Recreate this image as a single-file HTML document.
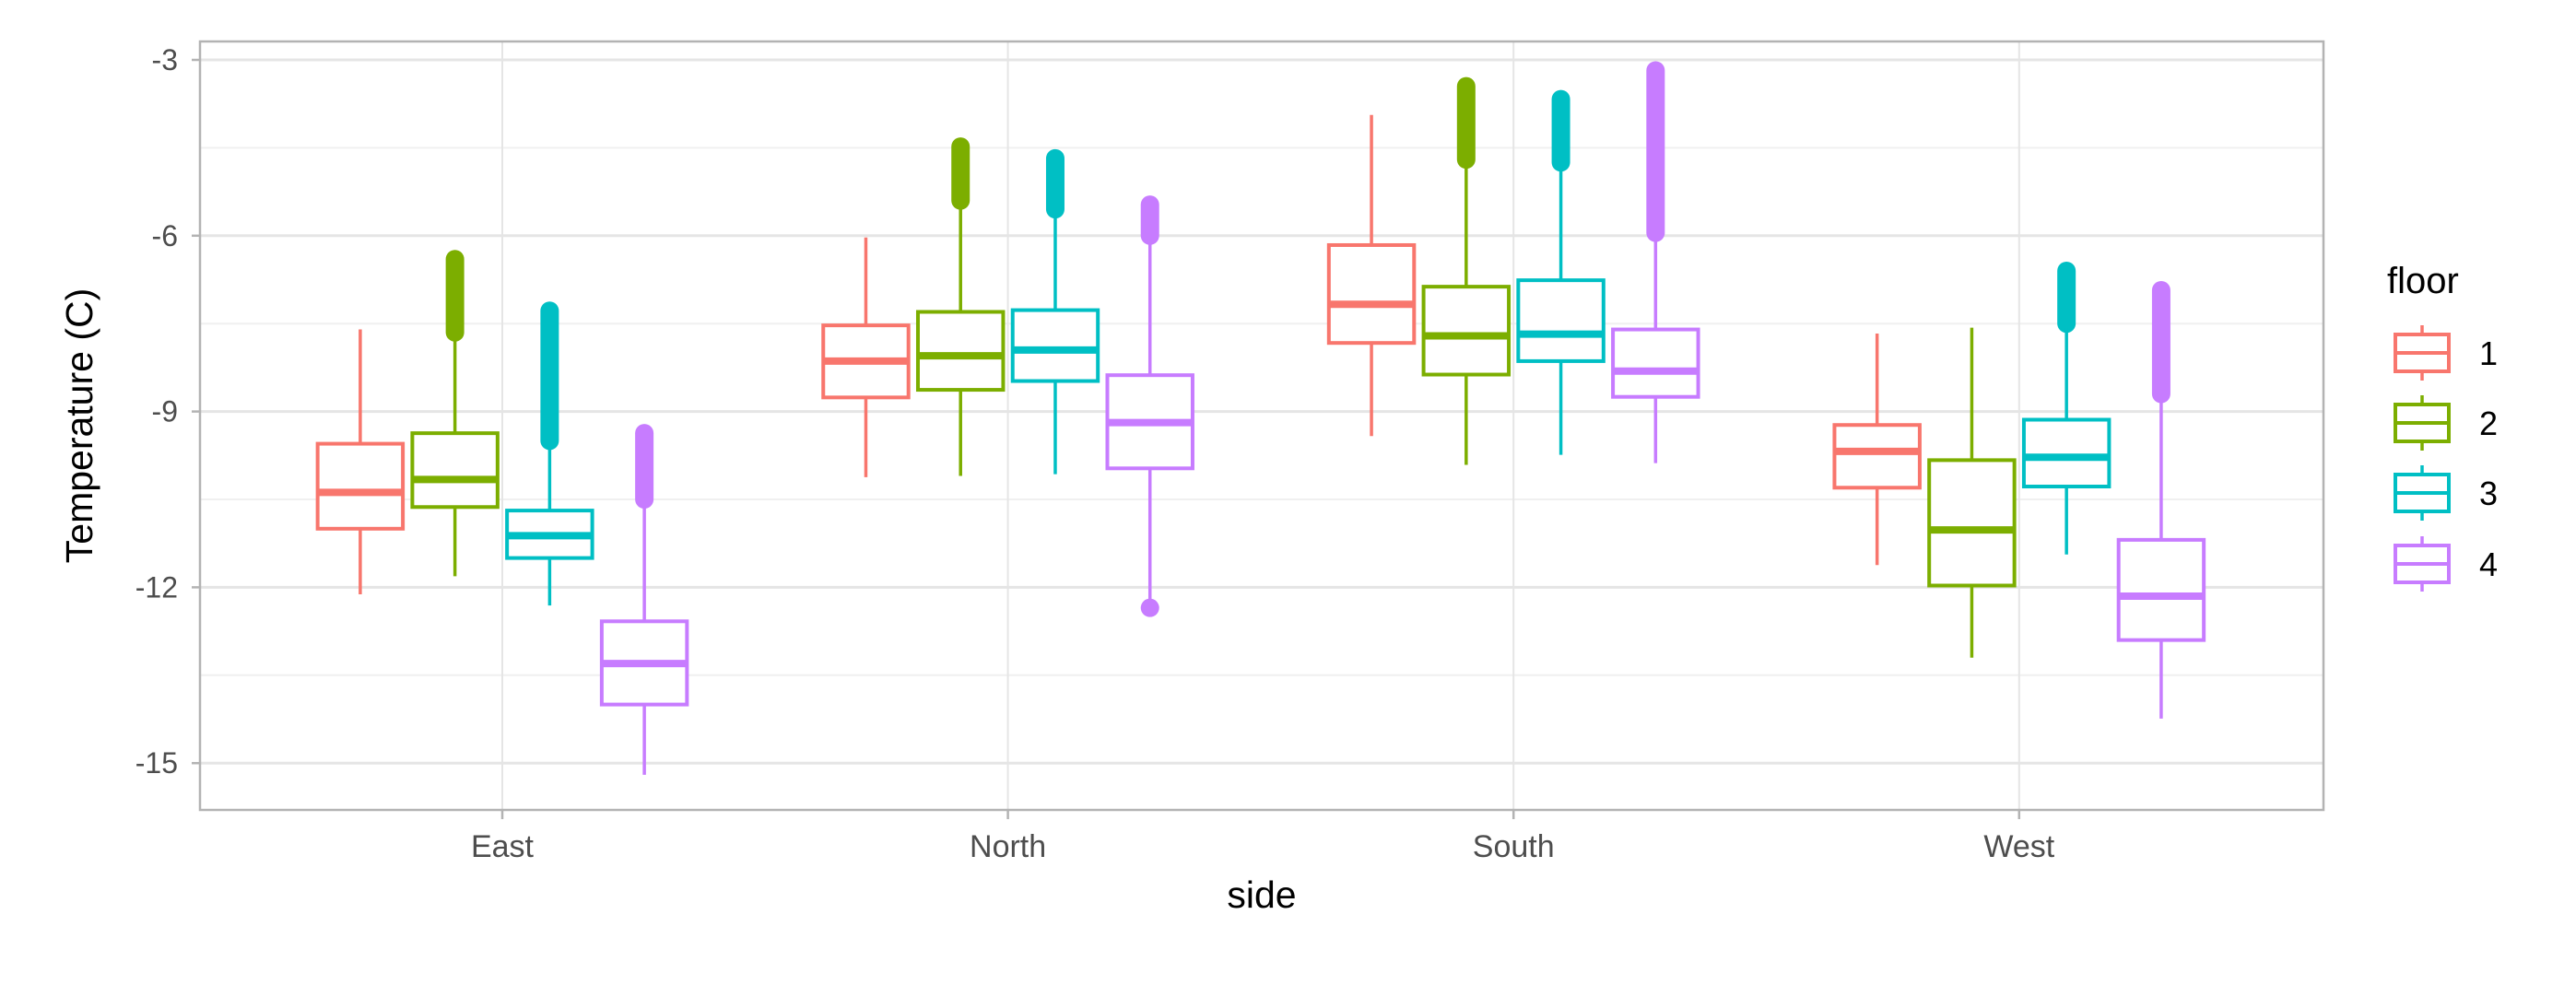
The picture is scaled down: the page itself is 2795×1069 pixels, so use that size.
<!DOCTYPE html>
<html><head><meta charset="utf-8"><style>
html,body{margin:0;padding:0;background:#fff;}
svg{display:block;font-family:"Liberation Sans",sans-serif;}
</style></head><body>
<svg id="chart" width="2795" height="1069" viewBox="0 0 2795 1069" xmlns="http://www.w3.org/2000/svg">
<rect x="0" y="0" width="2795" height="1069" fill="#fff"/>
<g id="grid"></g>
<g id="marks"></g>
<g id="axes"></g>
<text x="100" y="462" font-size="41" fill="#000" text-anchor="middle" transform="rotate(-90 100 462)">Temperature (C)</text>
<text x="1369" y="985" font-size="41" fill="#000" text-anchor="middle">side</text>
<g id="legend">
<text x="2590" y="318" font-size="40" fill="#000">floor</text>
</g>
</svg>
<script>
const categories = ["East","North","South","West"];
const floors = ["1","2","3","4"];
const colors = ["#F8766D","#7CAE00","#00BFC4","#C77CFF"];
const yTicks = [-3,-6,-9,-12,-15];
const yMinor = [-4.5,-7.5,-10.5,-13.5];
// per category, per floor: [whiskerLow, q1, median, q3, whiskerHigh]
const eastStats  = [[-12.12,-11.0,-10.38,-9.55,-7.6],[-11.81,-10.63,-10.16,-9.37,-7.6],[-12.31,-11.5,-11.12,-10.69,-9.53],[-15.2,-14.0,-13.3,-12.58,-10.55]];
const northStats = [[-10.12,-8.76,-8.14,-7.53,-6.03],[-10.1,-8.63,-8.05,-7.3,-5.44],[-10.07,-8.48,-7.95,-7.27,-5.57],[-12.2,-9.97,-9.19,-8.38,-6.05]];
const southStats = [[-9.42,-7.83,-7.17,-6.16,-3.94],[-9.91,-8.37,-7.71,-6.87,-4.74],[-9.74,-8.14,-7.68,-6.76,-4.79],[-9.88,-8.75,-8.31,-7.6,-6.0]];
const westStats  = [[-11.62,-10.3,-9.68,-9.23,-7.67],[-13.2,-11.97,-11.02,-9.83,-7.57],[-11.44,-10.28,-9.78,-9.14,-7.57],[-14.24,-12.9,-12.15,-11.19,-8.75]];
// outlier ranges [low, high] (null = none)
const eastOut  = [null,[-7.65,-6.4],[-9.5,-7.28],[-10.5,-9.37]];
const northOut = [null,[-5.4,-4.48],[-5.55,-4.68],[-6.0,-5.47]];
const southOut = [null,[-4.7,-3.45],[-4.75,-3.67],[-5.95,-3.18]];
const westOut  = [null,null,[-7.5,-6.6],[-8.7,-6.93]];
const extraOutliers = [["North",3,-12.35]];

const allStats=[eastStats,northStats,southStats,westStats];
const allOut=[eastOut,northOut,southOut,westOut];
const NS="http://www.w3.org/2000/svg";
const L=217,R=2521,T=45,B=879;
function yScale(v){return 65+(-3-v)*63.6;}
const catStep=548.6, cat0=545;
function xScale(i){return cat0+i*catStep;}
const dodge=411, slot=dodge/4, boxW=slot*0.9;
function xFloor(i,j){return xScale(i)-dodge/2+slot*(j+0.5);}
function mk(tag,attrs,parent){const e=document.createElementNS(NS,tag);for(const k in attrs)e.setAttribute(k,attrs[k]);parent.appendChild(e);return e;}
const grid=document.getElementById('grid'),marks=document.getElementById('marks'),axes=document.getElementById('axes'),legend=document.getElementById('legend');
yMinor.forEach(v=>{const e=mk('line',{x1:L,x2:R,y1:yScale(v),y2:yScale(v),stroke:'#f0f0f0','stroke-width':2},grid);

});
yTicks.forEach(v=>{const e=mk('line',{x1:L,x2:R,y1:yScale(v),y2:yScale(v),stroke:'#e5e5e5','stroke-width':3},grid);


const t=mk('line',{x1:L-9,x2:L,y1:yScale(v),y2:yScale(v),stroke:'#b3b3b3','stroke-width':2.5},axes);


const tx=mk('text',{x:L-24,y:yScale(v)+11,'font-size':32,fill:'#4d4d4d','text-anchor':'end'},axes);tx.textContent=v;

});
categories.forEach((c,i)=>{const x=xScale(i);
const g=mk('line',{x1:x,x2:x,y1:T,y2:B,stroke:'#e5e5e5','stroke-width':2},grid);


const t=mk('line',{x1:x,x2:x,y1:B,y2:B+10,stroke:'#b3b3b3','stroke-width':2.5},axes);


const tx=mk('text',{x:x,y:930,'font-size':34,fill:'#4d4d4d','text-anchor':'middle'},axes);tx.textContent=c;

});
const border=mk('rect',{x:L,y:T,width:R-L,height:B-T,fill:'none',stroke:'#b3b3b3','stroke-width':2.5},axes);


allStats.forEach((cat,i)=>{cat.forEach((s,j)=>{
 const x=xFloor(i,j),col=colors[j];
 const g=mk('g',{},marks);
 
 
 const o=allOut[i][j];
 if(o){const ol=mk('line',{x1:x,x2:x,y1:yScale(o[0]),y2:yScale(o[1]),stroke:col,'stroke-width':20,'stroke-linecap':'round'},g);
 
 }
 mk('line',{x1:x,x2:x,y1:yScale(s[4]),y2:yScale(s[3]),stroke:col,'stroke-width':3.5},g);
 mk('line',{x1:x,x2:x,y1:yScale(s[1]),y2:yScale(s[0]),stroke:col,'stroke-width':3.5},g);
 mk('rect',{x:x-boxW/2,y:yScale(s[3]),width:boxW,height:yScale(s[1])-yScale(s[3]),fill:'#fff',stroke:col,'stroke-width':4},g);
 mk('line',{x1:x-boxW/2,x2:x+boxW/2,y1:yScale(s[2]),y2:yScale(s[2]),stroke:col,'stroke-width':8},g);
});});
extraOutliers.forEach(e=>{const i=categories.indexOf(e[0]);const c=mk('circle',{cx:xFloor(i,e[1]),cy:yScale(e[2]),r:10,fill:colors[e[1]]},marks);

});
const keyY=[383,459,535,612];
floors.forEach((f,j)=>{const cy=keyY[j],col=colors[j];
 const g=mk('g',{},legend);
 
 
 mk('line',{x1:2628,x2:2628,y1:cy-30,y2:cy+30,stroke:col,'stroke-width':3.5},g);
 mk('rect',{x:2599,y:cy-20,width:58,height:40,fill:'#fff',stroke:col,'stroke-width':4},g);
 mk('line',{x1:2599,x2:2657,y1:cy,y2:cy,stroke:col,'stroke-width':4},g);
 const t=mk('text',{x:2690,y:cy+13,'font-size':36,fill:'#000'},g);t.textContent=f;
});
</script>
</body></html>
